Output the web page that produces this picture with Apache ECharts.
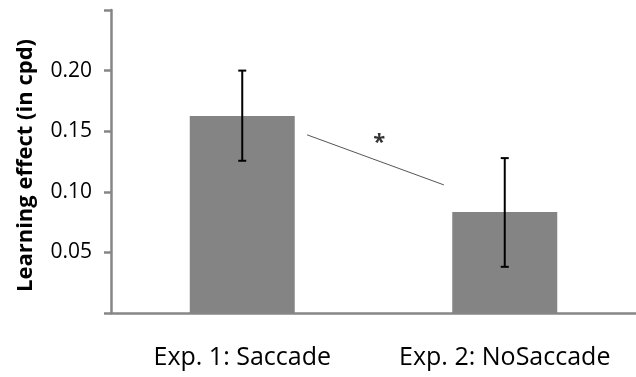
<!DOCTYPE html>
<html>
<head>
<meta charset="utf-8">
<script src="https://cdn.jsdelivr.net/npm/echarts@6/dist/echarts.min.js"></script>
<style>html,body{margin:0;padding:0;background:#fff}#c{width:636px;height:377px}</style>
</head>
<body>
<div id="c"></div>
<script>
var categories = ['Exp. 1: Saccade', 'Exp. 2: NoSaccade'];
var means = [0.1626, 0.0834];
var errLow = [0.1256, 0.0381];
var errHigh = [0.200, 0.1278];
var yTicks = [0, 0.05, 0.10, 0.15, 0.20, 0.25];
var sigLine = [[0.747, 0.147], [1.268, 0.1057]];
var sigMark = [[1.022, 0.1405]];

var chart = echarts.init(document.getElementById('c'));
var axisColor = '#868686';
chart.setOption({
  animation: false,
  grid: {left: 111, right: 0, top: 10, bottom: 64},
  xAxis: [{
    type: 'category',
    data: categories,
    axisLine: {lineStyle: {color: axisColor, width: 2.5}},
    axisTick: {length: 10, lineStyle: {color: axisColor, width: 2.5}},
    axisLabel: {color: '#000', fontFamily: 'Open Sans', fontSize: 25, margin: 32, interval: 0, hideOverlap: false}
  }, {
    type: 'value', min: 0, max: 2, show: false
  }],
  yAxis: {
    type: 'value',
    min: 0, max: 0.25, interval: 0.05,
    name: 'Learning effect (in cpd)',
    nameLocation: 'middle',
    nameRotate: 90,
    nameGap: 74,
    nameTextStyle: {color: '#000', fontFamily: 'Open Sans', fontWeight: 'bold', fontSize: 22, padding: [0, 8, 0, 0]},
    splitLine: {show: false},
    axisLine: {show: true, lineStyle: {color: axisColor, width: 2.5}},
    axisTick: {show: true, length: 7, lineStyle: {color: axisColor, width: 2.5}},
    axisLabel: {
      color: '#000', fontFamily: 'Open Sans', fontSize: 21, margin: 19,
      formatter: function (v) {
        if (v < 0.001 || v > 0.249) return '';
        return v.toFixed(2);
      }
    }
  },
  series: [{
    type: 'bar',
    data: means,
    barWidth: '40%',
    itemStyle: {color: '#848484'}
  }, {
    type: 'custom',
    data: categories.map(function (c, i) { return [i, errLow[i], errHigh[i]]; }),
    renderItem: function (params, api) {
      var lo = api.coord([api.value(0), api.value(1)]);
      var hi = api.coord([api.value(0), api.value(2)]);
      var hw = 4;
      var st = {stroke: '#000', lineWidth: 2};
      return {type: 'group', children: [
        {type: 'line', shape: {x1: hi[0], y1: hi[1], x2: lo[0], y2: lo[1]}, style: st},
        {type: 'line', shape: {x1: hi[0] - hw, y1: hi[1], x2: hi[0] + hw, y2: hi[1]}, style: st},
        {type: 'line', shape: {x1: lo[0] - hw, y1: lo[1], x2: lo[0] + hw, y2: lo[1]}, style: st}
      ]};
    },
    z: 5
  }, {
    type: 'line',
    xAxisIndex: 1,
    data: sigLine,
    symbol: 'none',
    lineStyle: {color: '#555', width: 1}
  }, {
    type: 'scatter',
    xAxisIndex: 1,
    data: sigMark,
    symbolSize: 0,
    label: {show: true, position: 'inside', formatter: '*', color: '#000', fontFamily: 'Open Sans', fontWeight: 'bold', fontSize: 22}
  }]
});
</script>
</body>
</html>
